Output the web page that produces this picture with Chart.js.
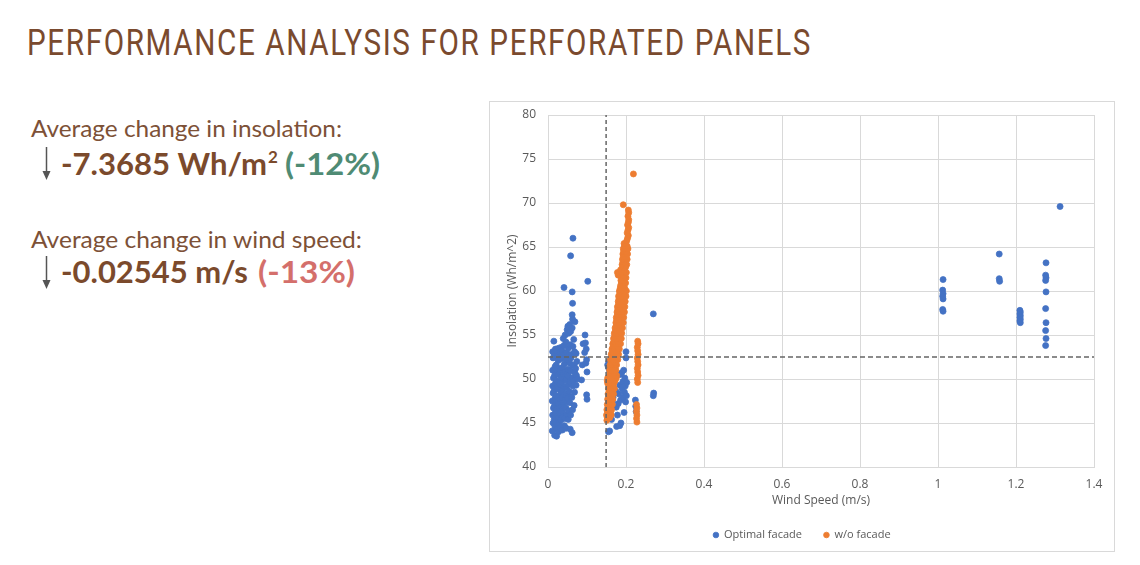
<!DOCTYPE html>
<html>
<head>
<meta charset="utf-8">
<title>Performance analysis for perforated panels</title>
<script src="https://cdn.jsdelivr.net/npm/chart.js@4.4.1/dist/chart.umd.min.js"></script>
<style>
  html, body {
    margin: 0;
    padding: 0;
    background: #ffffff;
  }
  body {
    width: 1140px;
    height: 565px;
    position: relative;
    overflow: hidden;
  }
  #slide-text {
    position: absolute;
    left: 0;
    top: 0;
  }
  #chart-box {
    position: absolute;
    left: 489px;
    top: 101px;
    width: 624px;
    height: 449px;
    border: 1px solid #d9d9d9;
    background: #ffffff;
  }
</style>
</head>
<body>

<svg id="slide-text" width="1140" height="565" xmlns="http://www.w3.org/2000/svg">
  <text x="27" y="55" font-family="Roboto, sans-serif" font-weight="400" font-size="37" letter-spacing="2"
        fill="#7a4a2e" textLength="785" lengthAdjust="spacingAndGlyphs">PERFORMANCE ANALYSIS FOR PERFORATED PANELS</text>

  <text x="31" y="137" font-family="Lato, sans-serif" font-size="23" fill="#7d5137"
        textLength="311" lengthAdjust="spacingAndGlyphs">Average change in insolation:</text>

  <line x1="46.5" y1="147" x2="46.5" y2="174" stroke="#555555" stroke-width="1.5" />
  <polygon points="42.5,171 50.5,171 46.5,180" fill="#555555" />
  <text x="61" y="175" font-family="Lato, sans-serif" font-weight="bold" font-size="30" fill="#7b4a2c"
        textLength="206" lengthAdjust="spacingAndGlyphs">-7.3685 Wh/m</text>
  <text x="268" y="163" font-family="Lato, sans-serif" font-weight="bold" font-size="17" fill="#7b4a2c">2</text>
  <text x="285" y="175" font-family="Lato, sans-serif" font-weight="bold" font-size="30" fill="#4f8b74"
        textLength="95" lengthAdjust="spacingAndGlyphs">(-12%)</text>

  <text x="31" y="248" font-family="Lato, sans-serif" font-size="23" fill="#7d5137"
        textLength="331" lengthAdjust="spacingAndGlyphs">Average change in wind speed:</text>

  <line x1="46.5" y1="256" x2="46.5" y2="283" stroke="#555555" stroke-width="1.5" />
  <polygon points="42.5,280 50.5,280 46.5,289" fill="#555555" />
  <text x="61" y="283" font-family="Lato, sans-serif" font-weight="bold" font-size="30" fill="#7b4a2c"
        textLength="187" lengthAdjust="spacingAndGlyphs">-0.02545 m/s</text>
  <text x="258" y="283" font-family="Lato, sans-serif" font-weight="bold" font-size="30" fill="#d46f6b"
        textLength="97" lengthAdjust="spacingAndGlyphs">(-13%)</text>
</svg>

<div id="chart-box"><canvas id="scatterChart"></canvas></div>

<script>
// Series names (legend)
const SERIES_NAMES = ["Optimal facade", "w/o facade"];

// Axis ticks
const X_TICKS = [0, 0.2, 0.4, 0.6, 0.8, 1, 1.2, 1.4];
const Y_TICKS = [40, 45, 50, 55, 60, 65, 70, 75, 80];

// Reference lines (dashed)
const DIVIDER_WIND = 0.149;
const DIVIDER_INSOLATION = 52.5;

// Optimal facade: low wind cluster  [wind speed, insolation]
const optimalLowWind = [
  [0.011,44.1],[0.013,45.0],[0.012,45.9],[0.014,46.7],[0.011,47.5],[0.013,48.4],[0.012,49.2],[0.014,50.1],[0.012,51.0],[0.013,52.4],[0.012,53.1],[0.015,54.3],
  [0.017,43.6],[0.018,44.6],[0.016,45.4],[0.019,46.2],[0.017,47.0],[0.018,47.8],[0.016,48.7],[0.019,49.5],[0.017,50.4],[0.018,51.4],[0.016,52.9],[0.019,53.4],
  [0.022,43.5],[0.023,44.3],[0.021,45.1],[0.024,45.8],[0.022,46.6],[0.023,47.3],[0.021,48.1],[0.024,49.0],[0.022,49.8],[0.023,50.7],[0.021,51.6],[0.024,52.6],[0.022,53.2],
  [0.027,44.0],[0.028,44.9],[0.026,45.6],[0.029,46.4],[0.027,47.2],[0.028,48.0],[0.026,48.9],[0.029,49.7],[0.027,50.5],[0.028,51.2],[0.026,52.1],[0.029,52.8],[0.027,53.5],
  [0.032,44.5],[0.033,45.3],[0.031,46.1],[0.034,46.9],[0.032,47.7],[0.033,48.5],[0.031,49.4],[0.034,50.2],[0.032,51.0],[0.033,52.3],[0.031,53.0],[0.034,53.6],
  [0.037,44.2],[0.038,45.7],[0.036,46.3],[0.039,47.1],[0.037,47.9],[0.038,48.8],[0.036,49.6],[0.039,50.5],[0.037,51.3],[0.038,52.5],[0.036,53.2],[0.039,54.6],
  [0.042,44.7],[0.043,45.5],[0.041,46.8],[0.044,47.6],[0.042,48.3],[0.043,49.1],[0.041,50.0],[0.044,50.8],[0.042,51.7],[0.043,52.9],[0.041,53.8],[0.044,55.0],[0.041,60.4],
  [0.047,44.4],[0.048,46.0],[0.046,46.7],[0.049,47.4],[0.047,48.2],[0.048,49.0],[0.046,49.9],[0.049,50.6],[0.047,52.2],[0.048,53.0],[0.046,54.2],[0.049,55.6],
  [0.052,45.4],[0.053,46.4],[0.051,47.8],[0.054,48.6],[0.052,49.4],[0.053,50.3],[0.051,51.1],[0.054,52.7],[0.052,53.5],[0.053,55.2],[0.051,56.0],
  [0.057,44.3],[0.058,45.9],[0.056,47.3],[0.059,48.0],[0.057,49.7],[0.058,50.9],[0.056,51.8],[0.059,52.4],[0.057,53.9],[0.058,55.4],[0.056,56.2],[0.058,64.0],
  [0.062,43.9],[0.063,46.5],[0.061,47.9],[0.064,49.2],[0.062,50.1],[0.063,51.5],[0.061,52.8],[0.064,53.7],[0.062,55.8],[0.063,56.8],[0.062,57.3],[0.063,58.6],[0.062,59.9],[0.064,66.0],
  [0.067,47.0],[0.068,48.5],[0.066,49.8],[0.069,50.7],[0.067,51.6],[0.068,53.1],[0.066,54.5],[0.069,56.5],
  [0.072,49.3],[0.073,50.4],[0.071,51.2],[0.074,52.0],[0.072,52.9],[0.076,50.0],
  [0.086,49.9],[0.088,51.6],[0.090,54.0],[0.094,53.0],[0.095,55.0],[0.096,54.1],[0.098,53.4],[0.099,52.2],[0.097,51.8],[0.100,50.8],[0.099,48.2],[0.100,47.7],[0.102,61.1]
];

// Optimal facade: medium wind cluster
const optimalMidWind = [
  [0.153,51.6],[0.156,52.0],[0.158,50.9],[0.155,51.3],[0.160,49.8],[0.157,45.7],[0.159,46.3],[0.155,44.0],[0.158,44.1],[0.163,45.4],
  [0.165,47.5],[0.167,47.9],[0.168,49.0],[0.170,50.2],[0.172,51.2],[0.174,48.6],[0.175,46.8],[0.176,44.6],[0.178,45.9],[0.180,47.2],
  [0.182,48.3],[0.184,49.3],[0.185,50.5],[0.186,47.6],[0.187,45.0],[0.184,44.7],[0.189,50.7],[0.190,48.9],[0.192,49.7],[0.193,47.9],
  [0.194,51.0],[0.195,46.2],[0.196,48.5],[0.197,50.1],[0.198,49.2],[0.199,47.4],[0.200,53.1],[0.200,52.4],[0.201,48.1],[0.202,49.6],
  [0.225,46.9],[0.226,46.3],[0.224,47.6],[0.270,57.4],[0.271,48.4],[0.270,48.1]
];

// Optimal facade: high wind cluster
const optimalHighWind = [
  [1.013,61.3],[1.012,60.1],[1.013,59.7],[1.012,59.4],[1.013,59.1],[1.012,57.9],[1.013,57.7],
  [1.157,64.2],[1.157,61.4],[1.158,61.1],
  [1.210,57.8],[1.211,57.6],[1.210,57.4],[1.211,57.2],[1.210,57.0],[1.211,56.8],[1.210,56.6],[1.211,56.4],
  [1.277,63.2],[1.276,61.8],[1.277,61.5],[1.276,61.2],[1.277,59.9],[1.276,58.0],[1.277,56.4],[1.276,55.5],[1.277,54.6],[1.276,53.8],
  [1.313,69.6]
];

// w/o facade: main band
const noFacadeBand = [
  [0.151,45.3],
  [0.152,45.6],[0.158,45.6],
  [0.150,45.9],[0.156,45.9],[0.162,45.9],
  [0.153,46.2],[0.160,46.2],
  [0.151,46.5],[0.157,46.5],[0.163,46.5],
  [0.154,46.8],[0.161,46.8],
  [0.152,47.1],[0.158,47.1],[0.165,47.1],
  [0.155,47.4],[0.162,47.4],
  [0.153,47.7],[0.159,47.7],[0.166,47.7],
  [0.156,48.0],[0.163,48.0],
  [0.154,48.3],[0.161,48.3],[0.168,48.3],
  [0.157,48.6],[0.165,48.6],
  [0.155,48.9],[0.162,48.9],[0.170,48.9],
  [0.158,49.2],[0.166,49.2],
  [0.153,49.5],[0.161,49.5],[0.169,49.5],
  [0.152,49.8],[0.158,49.8],[0.172,49.8],
  [0.153,50.1],[0.163,50.1],[0.175,50.1],
  [0.157,50.4],[0.166,50.4],[0.176,50.4],
  [0.160,50.7],[0.170,50.7],
  [0.158,51.0],[0.165,51.0],[0.174,51.0],
  [0.161,51.3],[0.169,51.3],
  [0.159,51.6],[0.166,51.6],[0.176,51.6],
  [0.162,51.9],[0.172,51.9],
  [0.160,52.2],[0.168,52.2],[0.179,52.2],
  [0.163,52.5],[0.174,52.5],
  [0.162,52.8],[0.170,52.8],[0.181,52.8],
  [0.165,53.1],[0.176,53.1],
  [0.164,53.4],[0.172,53.4],[0.183,53.4],
  [0.167,53.7],[0.178,53.7],
  [0.166,54.0],[0.174,54.0],[0.186,54.0],
  [0.169,54.3],[0.180,54.3],
  [0.168,54.6],[0.176,54.6],[0.188,54.6],
  [0.171,54.9],[0.182,54.9],
  [0.170,55.2],[0.178,55.2],[0.189,55.2],
  [0.173,55.5],[0.184,55.5],
  [0.172,55.8],[0.180,55.8],[0.191,55.8],
  [0.175,56.1],[0.186,56.1],
  [0.174,56.4],[0.182,56.4],[0.193,56.4],
  [0.176,56.7],[0.188,56.7],
  [0.175,57.0],[0.184,57.0],[0.194,57.0],
  [0.178,57.3],[0.189,57.3],
  [0.177,57.6],[0.185,57.6],[0.196,57.6],
  [0.179,57.9],[0.191,57.9],
  [0.178,58.2],[0.187,58.2],[0.197,58.2],
  [0.181,58.5],[0.192,58.5],
  [0.180,58.8],[0.188,58.8],[0.198,58.8],
  [0.182,59.1],[0.194,59.1],
  [0.181,59.4],[0.190,59.4],[0.200,59.4],
  [0.184,59.7],[0.195,59.7],
  [0.183,60.0],[0.191,60.0],[0.201,60.0],
  [0.185,60.3],[0.197,60.3],
  [0.186,60.6],[0.193,60.6],
  [0.188,60.9],[0.199,60.9],
  [0.187,61.2],[0.195,61.2],
  [0.189,61.5],[0.200,61.5],
  [0.180,61.8],[0.194,61.8],
  [0.178,62.1],[0.190,62.1],[0.201,62.1],
  [0.186,62.4],[0.196,62.4],
  [0.191,62.7],[0.199,62.7],
  [0.190,63.0],[0.202,63.0],
  [0.192,63.3],[0.198,63.3],
  [0.191,63.6],[0.203,63.6],
  [0.193,63.9],[0.200,63.9],
  [0.192,64.2],[0.204,64.2],
  [0.194,64.5],[0.201,64.5],
  [0.193,64.8],[0.205,64.8],
  [0.196,65.1],[0.203,65.1],
  [0.195,65.4],[0.202,65.7],[0.204,66.0],[0.206,66.3],[0.203,66.6],[0.205,66.9],[0.207,67.2],
  [0.204,67.5],[0.206,67.8],[0.207,68.1],[0.205,68.5],[0.207,68.9],[0.206,69.2],[0.193,69.8],
  [0.219,73.3]
];

// w/o facade: separate column
const noFacadeColumn = [
  [0.230,54.3],[0.231,54.0],[0.229,53.6],[0.230,53.2],[0.231,52.8],[0.229,52.4],[0.230,52.0],
  [0.231,51.6],[0.229,51.2],[0.230,50.8],[0.231,50.4],[0.229,50.0],[0.230,49.6],
  [0.227,47.1],[0.228,46.7],[0.227,46.3],[0.228,45.9],[0.227,45.5],[0.228,45.1]
];

const BLUE = "#4472c4";
const ORANGE = "#ed7d31";
const GRID = "#d9d9d9";
const LABEL = "#595959";
const DASH = "#666666";

const axisFont = { family: "'Open Sans', sans-serif", size: 12 };
const legendFont = { family: "'Open Sans', sans-serif", size: 11 };

// Utility: [x, y] pairs to chart points
function toPoints(pairs) {
  return pairs.map((p) => ({ x: p[0], y: p[1] }));
}

function buildChart() {
  const canvas = document.getElementById("scatterChart");

  const optimalPoints = toPoints(optimalLowWind.concat(optimalMidWind, optimalHighWind));
  const noFacadePoints = toPoints(noFacadeBand.concat(noFacadeColumn));

  new Chart(canvas, {
    type: "scatter",
    data: {
      datasets: [
        {
          label: SERIES_NAMES[0],
          data: optimalPoints,
          backgroundColor: BLUE,
          borderColor: BLUE,
          pointRadius: 3,
          pointBorderWidth: 0.8,
          order: 3,
        },
        {
          label: SERIES_NAMES[1],
          data: noFacadePoints,
          backgroundColor: ORANGE,
          borderColor: ORANGE,
          pointRadius: 3,
          pointBorderWidth: 0.8,
          order: 2,
        },
        {
          label: "wind divider",
          type: "line",
          data: [{ x: DIVIDER_WIND, y: Y_TICKS[0] }, { x: DIVIDER_WIND, y: Y_TICKS[Y_TICKS.length - 1] }],
          borderColor: DASH,
          borderWidth: 1.5,
          borderDash: [4, 3],
          pointRadius: 0,
          fill: false,
          order: 0,
        },
        {
          label: "insolation divider",
          type: "line",
          data: [{ x: X_TICKS[0], y: DIVIDER_INSOLATION }, { x: X_TICKS[X_TICKS.length - 1], y: DIVIDER_INSOLATION }],
          borderColor: DASH,
          borderWidth: 1.5,
          borderDash: [5, 3],
          pointRadius: 0,
          fill: false,
          order: 0,
        },
      ],
    },
    options: {
      responsive: true,
      maintainAspectRatio: false,
      animation: false,
      layout: {
        padding: { top: 13, right: 0, bottom: 0.5, left: 0 },
      },
      plugins: {
        tooltip: { enabled: false },
        legend: {
          position: "bottom",
          labels: {
            filter: (item) => item.datasetIndex < 2,
            sort: (a, b) => a.datasetIndex - b.datasetIndex,
            usePointStyle: true,
            pointStyle: "circle",
            boxWidth: 5,
            boxHeight: 4,
            padding: 22,
            color: LABEL,
            font: legendFont,
          },
        },
      },
      scales: {
        x: {
          type: "linear",
          min: X_TICKS[0],
          max: X_TICKS[X_TICKS.length - 1],
          afterBuildTicks: (scale) => {
            scale.ticks = X_TICKS.map((v) => ({ value: v }));
          },
          afterFit: (scale) => {
            scale.height = 40.5;
            // room on the right of the plot, legend stays centred on the box
            scale.paddingRight = 20;
          },
          ticks: {
            color: LABEL,
            font: axisFont,
            padding: 10,
            maxRotation: 0,
            callback: (value) => String(value),
          },
          grid: { color: GRID, drawTicks: false },
          border: { color: GRID },
          title: {
            display: true,
            text: "Wind Speed (m/s)",
            color: LABEL,
            font: axisFont,
            padding: { top: 0, bottom: 0 },
          },
        },
        y: {
          type: "linear",
          min: Y_TICKS[0],
          max: Y_TICKS[Y_TICKS.length - 1],
          afterBuildTicks: (scale) => {
            scale.ticks = Y_TICKS.map((v) => ({ value: v }));
          },
          afterFit: (scale) => {
            scale.width = 58;
            // keep the plot top where the layout padding puts it
            scale.paddingTop = 8;
            scale.paddingBottom = 8;
          },
          ticks: {
            color: LABEL,
            font: axisFont,
            padding: 12,
            callback: (value) => String(value),
          },
          grid: { color: GRID, drawTicks: false },
          border: { display: false },
          title: {
            display: true,
            text: "Insolation (Wh/m^2)",
            color: LABEL,
            font: axisFont,
            padding: { top: 15, bottom: 0 },
          },
        },
      },
    },
  });
}

document.addEventListener("DOMContentLoaded", buildChart);
</script>
</body>
</html>
